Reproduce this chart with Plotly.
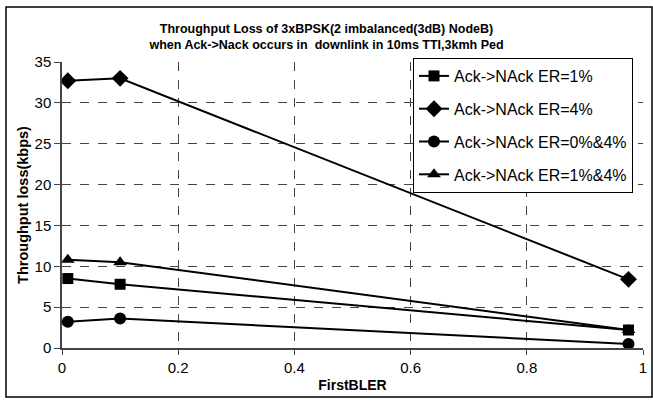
import plotly.graph_objects as go

first_bler = [0.01, 0.1, 0.975]
er_1 = [8.5, 7.8, 2.2]
er_4 = [32.7, 33.0, 8.4]
er_0_4 = [3.2, 3.6, 0.5]
er_1_4 = [10.8, 10.5, 2.2]

series = [
    ("Ack->NAck ER=1%", er_1, "square", 11),
    ("Ack->NAck ER=4%", er_4, "diamond", 13),
    ("Ack->NAck ER=0%&4%", er_0_4, "circle", 12),
    ("Ack->NAck ER=1%&4%", er_1_4, "triangle-up", 12),
]

fig = go.Figure()
for i, (name, ys, sym, sz) in enumerate(series):
    fig.add_trace(go.Scatter(
        x=first_bler, y=ys, name=name, mode="lines+markers",
        line=dict(color="black", width=2),
        marker=dict(symbol=sym, size=sz, color="black"),
        legendgroup=f"g{i}",
    ))

L, R, T, B = 62, 10, 62, 53
W, H = 653, 401
pw, ph = W - L - R, H - T - B

def px_x(p):
    return (p - L) / pw

def px_y(p):
    return (H - B - p) / ph

FONT = "Liberation Sans, Arial, sans-serif"

fig.update_layout(
    width=W, height=H,
    margin=dict(l=L, r=R, t=T, b=B, autoexpand=False),
    paper_bgcolor="white", plot_bgcolor="white",
    font=dict(family=FONT, size=15, color="black"),
    title=dict(
        text="<b>Throughput Loss of 3xBPSK(2 imbalanced(3dB) NodeB)<br>when Ack->Nack occurs in  downlink in 10ms TTI,3kmh Ped</b>",
        x=0.5, xanchor="center", y=1 - 33 / H, yanchor="middle",
        font=dict(size=12.5),
    ),
    xaxis=dict(
        range=[0, 1], dtick=0.2, tickformat="~g",
        showgrid=True, gridcolor="#444", griddash="dash", gridwidth=1,
        showline=True, linecolor="#444", linewidth=1.5,
        ticks="outside", ticklen=5, tickcolor="#444",
        zeroline=False, automargin=False,
        tickfont=dict(size=15),
        title=dict(text="<b>FirstBLER</b>", standoff=5, font=dict(size=14)),
    ),
    yaxis=dict(
        range=[0, 35], dtick=5,
        showgrid=True, gridcolor="#444", griddash="dash", gridwidth=1,
        showline=True, linecolor="#444", linewidth=1.5,
        ticks="outside", ticklen=6, tickcolor="#444",
        zeroline=False, automargin=False,
        tickfont=dict(size=15),
        title=dict(text="<b>Throughput loss(kbps)</b>", standoff=2, font=dict(size=14.5)),
    ),
    legend=dict(
        x=px_x(413), y=px_y(58), xanchor="left", yanchor="top",
        bgcolor="white", bordercolor="black", borderwidth=1,
        tracegroupgap=9, font=dict(size=16),
    ),
    showlegend=True,
)

fig.add_shape(type="rect", xref="paper", yref="paper",
              x0=px_x(6), x1=px_x(652), y0=px_y(397), y1=px_y(7),
              line=dict(color="black", width=1.5), layer="below")

fig.write_html("out.html", config={"displayModeBar": False},
               post_script="document.body.style.margin='0';document.body.style.overflow='hidden';")
